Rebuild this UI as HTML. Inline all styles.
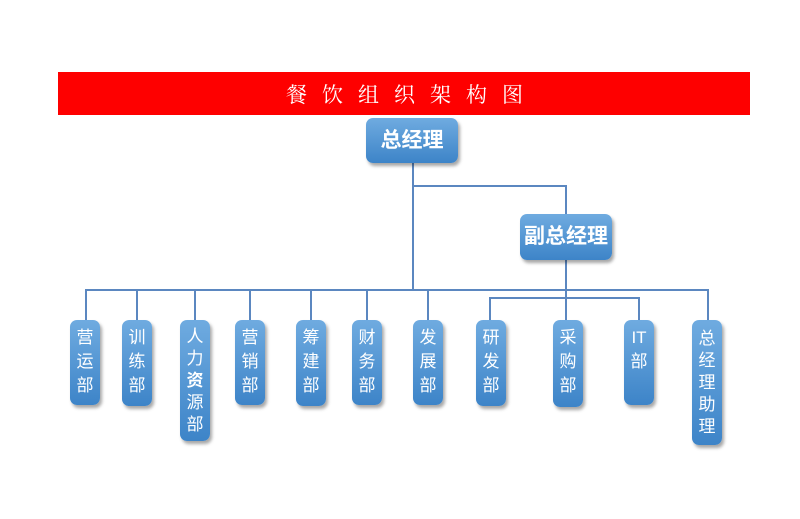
<!DOCTYPE html>
<html><head><meta charset="utf-8"><style>
body{margin:0;width:800px;height:519px;background:#fff;position:relative;overflow:hidden;font-family:"Liberation Sans","Noto Sans CJK SC",sans-serif}
.bar{position:absolute;left:58px;top:72px;width:692px;height:43px;background:#fe0000}
.title{position:absolute;left:66px;top:72px;width:692px;height:43px;line-height:45px;text-align:center;color:#fff;font-size:21px;letter-spacing:15px;font-family:"Noto Serif CJK SC",serif}
.b{position:absolute;background:linear-gradient(#6fabe0,#3d84c8);border-radius:7px;color:#fff;box-shadow:2px 3px 3px rgba(0,0,0,.35);text-align:center}
.big{font-weight:bold;font-size:21px;line-height:45px}
.v{width:30px;font-size:17px;line-height:24px;padding-top:6px;box-sizing:border-box}
.v5{line-height:22px;padding-top:6px}
.l{position:absolute;background:#5b87c0}
</style></head><body>
<div class="bar"></div><div class="title">餐饮组织架构图</div>
<div class="l" style="left:412px;top:160px;width:2px;height:131px"></div>
<div class="l" style="left:412px;top:185px;width:154px;height:2px"></div>
<div class="l" style="left:565px;top:185px;width:2px;height:30px"></div>
<div class="l" style="left:565px;top:258px;width:2px;height:62px"></div>
<div class="l" style="left:85px;top:289px;width:624px;height:2px"></div>
<div class="l" style="left:489px;top:297px;width:151px;height:2px"></div>
<div class="l" style="left:85px;top:289px;width:2px;height:31px"></div>
<div class="l" style="left:136px;top:289px;width:2px;height:31px"></div>
<div class="l" style="left:194px;top:289px;width:2px;height:31px"></div>
<div class="l" style="left:249px;top:289px;width:2px;height:31px"></div>
<div class="l" style="left:310px;top:289px;width:2px;height:31px"></div>
<div class="l" style="left:366px;top:289px;width:2px;height:31px"></div>
<div class="l" style="left:427px;top:289px;width:2px;height:31px"></div>
<div class="l" style="left:489px;top:297px;width:2px;height:23px"></div>
<div class="l" style="left:638px;top:297px;width:2px;height:23px"></div>
<div class="l" style="left:707px;top:289px;width:2px;height:31px"></div>
<div class="b big" style="left:366px;top:118px;width:92px;height:45px">总经理</div>
<div class="b big" style="left:520px;top:214px;width:92px;height:46px">副总经理</div>
<div class="b v" style="left:70px;top:320px;height:85px">营<br>运<br>部</div>
<div class="b v" style="left:122px;top:320px;height:86px">训<br>练<br>部</div>
<div class="b v v5" style="left:180px;top:320px;height:121px">人<br>力<br><b>资</b><br>源<br>部</div>
<div class="b v" style="left:235px;top:320px;height:85px">营<br>销<br>部</div>
<div class="b v" style="left:296px;top:320px;height:86px">筹<br>建<br>部</div>
<div class="b v" style="left:352px;top:320px;height:85px">财<br>务<br>部</div>
<div class="b v" style="left:413px;top:320px;height:85px">发<br>展<br>部</div>
<div class="b v" style="left:476px;top:320px;height:86px">研<br>发<br>部</div>
<div class="b v" style="left:553px;top:320px;height:87px">采<br>购<br>部</div>
<div class="b v" style="left:624px;top:320px;height:85px">IT<br>部</div>
<div class="b v v5" style="left:692px;top:320px;height:125px;padding-top:8px">总<br>经<br>理<br>助<br>理</div>
</body></html>
